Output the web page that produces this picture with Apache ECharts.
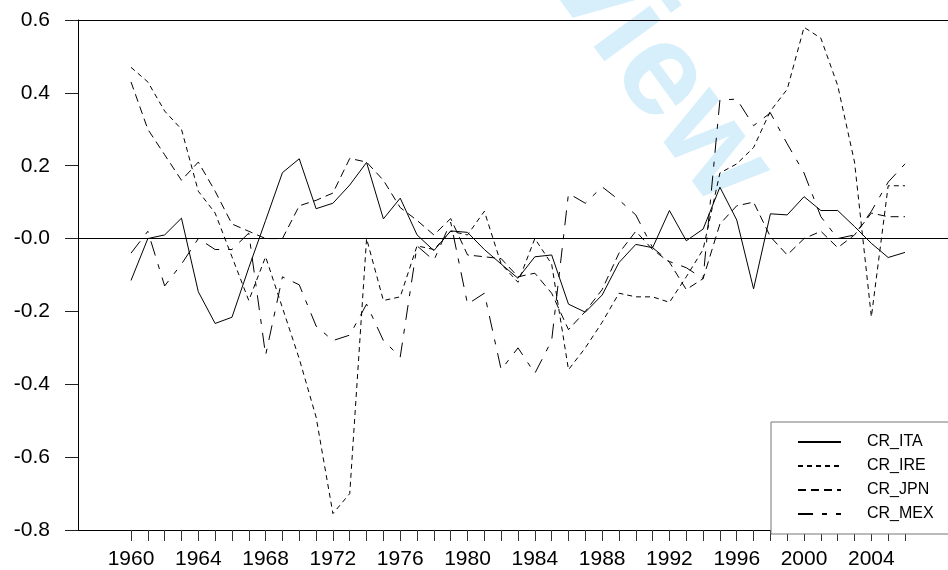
<!DOCTYPE html>
<html>
<head>
    <meta charset="utf-8">
    <script src="https://cdn.jsdelivr.net/npm/echarts@6/dist/echarts.min.js"></script>
    <title>CR</title>
    <style>
        * { margin: 0; padding: 0; }
        #view { width: 948px; height: 570px; background: #fff; }
    </style>
</head>
<body>
    <div id="view"></div>
    <script>
        // years on the x axis
        var years = [1960, 1961, 1962, 1963, 1964, 1965, 1966, 1967, 1968, 1969,
            1970, 1971, 1972, 1973, 1974, 1975, 1976, 1977, 1978, 1979,
            1980, 1981, 1982, 1983, 1984, 1985, 1986, 1987, 1988, 1989,
            1990, 1991, 1992, 1993, 1994, 1995, 1996, 1997, 1998, 1999,
            2000, 2001, 2002, 2003, 2004, 2005, 2006];
        var labelYears = [1960, 1964, 1968, 1972, 1976, 1980, 1984, 1988, 1992, 1996, 2000, 2004];

        var crIta = [-0.115, 0.0, 0.01, 0.056, -0.146, -0.233, -0.216, -0.08, 0.05, 0.181,
            0.219, 0.082, 0.097, 0.147, 0.209, 0.054, 0.111, 0.01, -0.033, 0.021,
            0.017, -0.03, -0.07, -0.109, -0.05, -0.045, -0.18, -0.202, -0.155, -0.066,
            -0.016, -0.025, 0.077, -0.006, 0.026, 0.141, 0.051, -0.138, 0.068, 0.065,
            0.115, 0.077, 0.077, 0.033, -0.013, -0.052, -0.038];
        var crIre = [0.47, 0.43, 0.35, 0.30, 0.13, 0.07, -0.05, -0.17, -0.05, -0.19,
            -0.33, -0.49, -0.755, -0.70, 0.0, -0.17, -0.16, -0.02, -0.03, 0.02,
            0.01, 0.075, -0.07, -0.12, 0.0, -0.07, -0.36, -0.30, -0.23, -0.15,
            -0.16, -0.16, -0.175, -0.105, -0.03, 0.18, 0.205, 0.25, 0.35, 0.41,
            0.58, 0.55, 0.42, 0.21, -0.215, 0.145, 0.145];
        var crJpn = [0.43, 0.30, 0.23, 0.16, 0.21, 0.13, 0.04, 0.02, 0.0, 0.0,
            0.09, 0.105, 0.125, 0.22, 0.21, 0.16, 0.085, 0.05, 0.01, 0.055,
            -0.045, -0.05, -0.055, -0.105, -0.095, -0.15, -0.25, -0.2, -0.14, -0.04,
            0.02, -0.03, -0.065, -0.14, -0.11, 0.04, 0.09, 0.1, 0.005, -0.045,
            0.0, 0.02, -0.025, 0.01, 0.07, 0.06, 0.06];
        var crMex = [-0.04, 0.02, -0.13, -0.07, 0.0, -0.03, -0.03, 0.015, -0.32, -0.105,
            -0.127, -0.24, -0.28, -0.265, -0.18, -0.28, -0.325, -0.02, -0.06, 0.045,
            -0.18, -0.15, -0.36, -0.30, -0.37, -0.28, 0.124, 0.097, 0.142, 0.106,
            0.065, -0.025, -0.063, -0.08, -0.11, 0.38, 0.383, 0.31, 0.345, 0.26,
            0.18, 0.06, 0.0, 0.01, 0.075, 0.155, 0.205];

        function pairs(vals) {
            return years.map(function (y, i) { return [y, vals[i]]; });
        }

        var font = '"Liberation Sans", Arial, sans-serif';
        var view = echarts.init(document.getElementById('view'));

        function line(name, vals, dash) {
            return {
                name: name,
                type: 'line',
                data: pairs(vals),
                symbol: 'none',
                color: '#000',
                itemStyle: { color: '#000' },
                lineStyle: { color: '#000', width: 1, type: dash }
            };
        }

        var series = [
            line('CR_ITA', crIta, 'solid'),
            line('CR_IRE', crIre, [5, 4]),
            line('CR_JPN', crJpn, [8, 5]),
            line('CR_MEX', crMex, [15, 9, 5, 9])
        ];
        // zero line
        series[0].markLine = {
            silent: true,
            symbol: 'none',
            label: { show: false },
            lineStyle: { color: '#000', width: 1, type: 'solid' },
            data: [{ yAxis: 0 }]
        };

        var option = {
            animation: false,
            backgroundColor: '#fff',
            textStyle: { fontFamily: font },
            grid: { left: 78, right: 0, top: 20, bottom: 40 },
            graphic: [{
                type: 'text',
                x: 596,
                y: -12,
                rotation: -0.94,
                z: -1,
                silent: true,
                style: {
                    text: 'Preview',
                    font: 'bold 132px ' + font,
                    fill: '#d6effb',
                    align: 'center',
                    verticalAlign: 'middle'
                }
            }],
            xAxis: [{
                type: 'value',
                min: 1956.85,
                max: 2008.555,
                splitLine: { show: false },
                axisLine: { onZero: false, lineStyle: { color: '#000', width: 1 } },
                axisTick: { length: 11, customValues: years, lineStyle: { color: '#333' } },
                axisLabel: {
                    customValues: labelYears,
                    fontSize: 21,
                    color: '#000',
                    margin: 19,
                    fontFamily: font,
                    formatter: function (v) { return String(Math.round(v)); }
                }
            }, {
                type: 'value',
                position: 'top',
                min: 1956.85,
                max: 2008.555,
                splitLine: { show: false },
                axisLine: { onZero: false, lineStyle: { color: '#000', width: 1 } },
                axisTick: { show: false },
                axisLabel: { show: false }
            }],
            yAxis: {
                type: 'value',
                min: -0.8,
                max: 0.6,
                interval: 0.2,
                splitLine: { show: false },
                axisLine: { show: true, onZero: false, lineStyle: { color: '#000', width: 1 } },
                axisTick: { show: true, length: 13, lineStyle: { color: '#222' } },
                axisLabel: {
                    fontSize: 21,
                    color: '#000',
                    margin: 28,
                    fontFamily: font,
                    formatter: function (v) {
                        if (Math.abs(v) < 1e-9) return '-0.0';
                        return v.toFixed(1);
                    }
                }
            },
            legend: {
                orient: 'vertical',
                left: 771,
                top: 422,
                padding: [12, 120, 12, 26],
                itemWidth: 43,
                itemHeight: 15,
                itemGap: 8,
                selectedMode: false,
                backgroundColor: '#fff',
                borderColor: '#777',
                borderWidth: 1,
                itemStyle: { opacity: 0 },
                textStyle: { fontSize: 16, color: '#000', fontFamily: font, padding: [0, 0, 0, 21] },
                data: ['CR_ITA', 'CR_IRE', 'CR_JPN', 'CR_MEX']
            },
            series: series
        };
        view.setOption(option);
    </script>
</body>
</html>
